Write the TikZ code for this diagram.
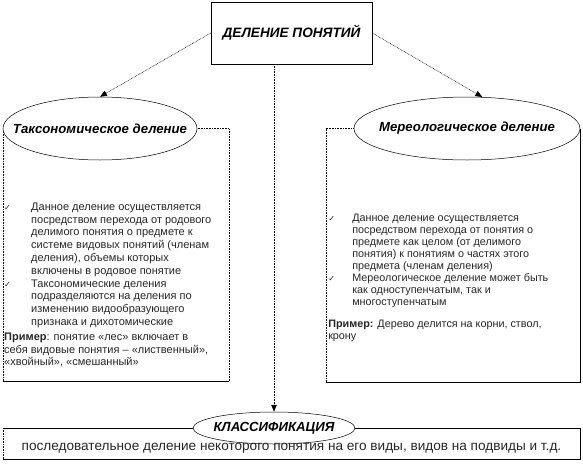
\documentclass[tikz,border=0pt]{standalone}
\usepackage{fontspec}
\setmainfont{Liberation Sans}
\newfontfamily\symfont{DejaVu Sans}
\usetikzlibrary{arrows.meta,shapes.geometric}
\newcommand{\chk}{{\symfont\fontsize{8}{8}\selectfont ✓}}

\begin{document}
\begin{tikzpicture}[x=1pt, y=-1pt, line width=0.5pt,
  every node/.style={text=black!85},
  >={Triangle[length=7pt,width=5.5pt]},
  dots/.style={dash pattern=on 0.8pt off 0.8pt},
  oval/.style={draw, ellipse, fill=white, inner xsep=-25pt, inner ysep=0pt, text=black,
    font=\fontsize{13.2}{15}\selectfont\bfseries\itshape}]
	\useasboundingbox (0,0) rectangle (583,463);
	% boxes round the two kinds of division
	\draw[dots] (100,128.5) -- (229,128.5) -- (229,381);
	\draw (229,381) -- (3,381);
	\draw[dots] (3,381) -- (3,128.5);
	\draw[dots] (467,128.5) -- (326,128.5) -- (326,382);
	\draw (326,382) -- (580,382) -- (580,128.5);
	% classification box
	\draw (274,428) -- (3,428);
	\draw[dots] (3,428) -- (3,459);
	\draw (3,459) -- (580,459) -- (580,428) -- (274,428);
	\node[draw, fill=white, minimum width=161pt, minimum height=62pt, inner sep=0pt, text=black, font=\fontsize{13.6}{15}\selectfont\bfseries\itshape] (div) at (291.5,33) {ДЕЛЕНИЕ ПОНЯТИЙ};
	\node[oval, minimum width=194pt, minimum height=63pt] (tax) at (100,128.5) {Таксономическое деление};
	\node[oval, minimum width=226pt, minimum height=63pt] (mer) at (467,128.5) {Мереологическое деление};
	\node[oval, minimum width=162pt, minimum height=32pt] (cls) at (274,428) {КЛАССИФИКАЦИЯ};
	\draw[->, dots] (div.west) -- (tax.north);
	\draw[->, dots] (div.east) -- (mer.64);
	\draw[->, dots] (div.south -| cls.north) -- (cls.north);
	\node[anchor=north west, inner sep=0pt, font=\fontsize{11}{12.8}\selectfont] (taxtxt) at (4,201) {%
		\begin{tabular}{@{}p{27pt}@{}l@{}}
		\chk & Данное деление осуществляется\\
		& посредством перехода от родового\\
		& делимого понятия о предмете к\\
		& системе видовых понятий (членам\\
		& деления), объемы которых\\
		& включены в родовое понятие\\
		\chk & Таксономические деления\\
		& подразделяются на деления по\\
		& изменению видообразующего\\
		& признака и дихотомические\\[2pt]
		\multicolumn{2}{@{}l@{}}{\textbf{Пример}: понятие «лес» включает в}\\
		\multicolumn{2}{@{}l@{}}{себя видовые понятия – «лиственный»,}\\
		\multicolumn{2}{@{}l@{}}{«хвойный», «смешанный»}
		\end{tabular}};
	\node[anchor=north west, inner sep=0pt, font=\fontsize{10.8}{12}\selectfont] (mertxt) at (328,213) {%
		\begin{tabular}{@{}p{24pt}@{}l@{}}
		\chk & Данное деление осуществляется\\
		& посредством перехода от понятия о\\
		& предмете как целом (от делимого\\
		& понятия) к понятиям о частях этого\\
		& предмета (членам деления)\\
		\chk & Мереологическое деление может быть\\
		& как одноступенчатым, так и\\
		& многоступенчатым\\[10pt]
		\multicolumn{2}{@{}l@{}}{\textbf{Пример:} Дерево делится на корни, ствол,}\\
		\multicolumn{2}{@{}l@{}}{крону}
		\end{tabular}};
	\node[font=\fontsize{13.6}{15}\selectfont] (clstxt) at (291.5,448) {последовательное деление некоторого понятия на его виды, видов на подвиды и т.д.};
\end{tikzpicture}
\end{document}
